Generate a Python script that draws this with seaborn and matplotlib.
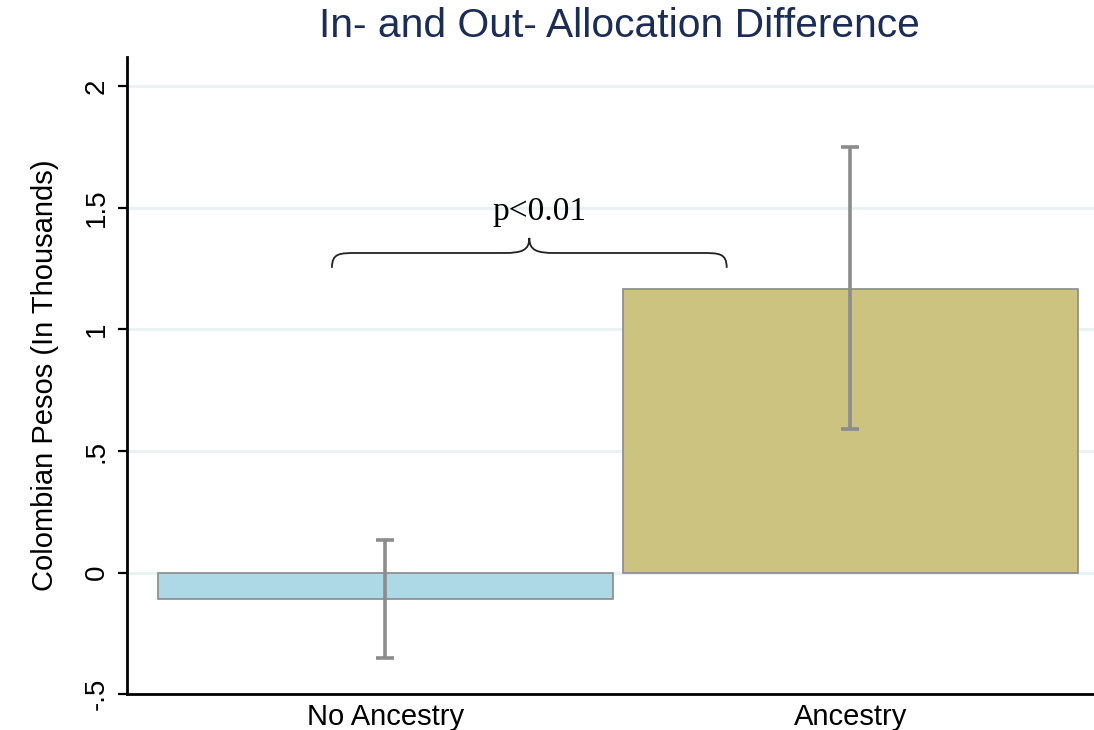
import matplotlib
matplotlib.use("Agg")
import matplotlib.pyplot as plt
from matplotlib.path import Path
from matplotlib.patches import PathPatch
import seaborn as sns
import pandas as pd
import numpy as np

# Data
groups = ["No Ancestry", "Ancestry"]
means = [-0.107, 1.166]
ci_low = [-0.353, 0.591]
ci_high = [0.136, 1.749]
bar_colors = ["#ADD8E6", "#CBC37F"]
yticks = [-0.5, 0, 0.5, 1, 1.5, 2]
ytick_labels = ["-.5", "0", ".5", "1", "1.5", "2"]

sns.set_theme(style="white")
plt.rcParams["font.family"] = ["Liberation Sans", "DejaVu Sans"]

fig = plt.figure(figsize=(10.94, 7.30), dpi=100)
ax = fig.add_axes([0.116, 0.049, 0.884, 0.873])

df = pd.DataFrame({"group": groups, "value": means})
sns.barplot(data=df, x="group", y="value", hue="group", palette=bar_colors,
            saturation=1, width=0.978, errorbar=None, legend=False, ax=ax,
            edgecolor="#8a8a8a", linewidth=1.2, zorder=3)

# Confidence intervals
xpos = np.arange(len(groups))
lo = np.array(means) - np.array(ci_low)
hi = np.array(ci_high) - np.array(means)
ax.errorbar(xpos, means, yerr=[lo, hi], fmt="none", ecolor="#8c8c8c",
            elinewidth=2.6, capsize=6.5, capthick=2.6, zorder=4)

ax.set_xlim(-0.556, 1.524)
ax.set_ylim(-0.5, 2.12)
ax.set_yticks(yticks)
ax.set_yticklabels(ytick_labels, rotation=90, va="center")
ax.tick_params(axis="y", which="both", left=True, length=6.5, width=1.6,
               color="black", labelsize=20, pad=6, labelcolor="black")
ax.tick_params(axis="x", bottom=False, labelsize=21, pad=0, labelcolor="black")
ax.set_xlabel("")
ax.set_ylabel("Colombian Pesos (In Thousands)", fontsize=21, labelpad=18,
              color="black")

ax.grid(axis="y", color="#E9F1F2", linewidth=2.0, zorder=0)
ax.set_axisbelow(True)
for side in ["top", "right"]:
    ax.spines[side].set_visible(False)
for side in ["left", "bottom"]:
    ax.spines[side].set_color("black")
    ax.spines[side].set_linewidth(2.0)

ax.set_title("In- and Out- Allocation Difference", fontsize=29.3,
             color="#1C2D55", pad=14, x=0.509)

# Curly brace spanning both groups
x0, x1 = -0.115, 0.734
xm = 0.5 * (x0 + x1)
y_end, y_bar, y_tip = 1.253, 1.314, 1.376
dx = 0.055
verts = [
    (x0, y_end), (x0, y_bar), (x0 + dx * 0.3, y_bar), (x0 + dx, y_bar),
    (xm - dx, y_bar),
    (xm - dx * 0.3, y_bar), (xm, y_bar + 0.01), (xm, y_tip),
    (xm, y_bar + 0.01), (xm + dx * 0.3, y_bar), (xm + dx, y_bar),
    (x1 - dx, y_bar),
    (x1 - dx * 0.3, y_bar), (x1, y_bar), (x1, y_end),
]
codes = [Path.MOVETO, Path.CURVE4, Path.CURVE4, Path.CURVE4,
         Path.LINETO,
         Path.CURVE4, Path.CURVE4, Path.CURVE4,
         Path.CURVE4, Path.CURVE4, Path.CURVE4,
         Path.LINETO,
         Path.CURVE4, Path.CURVE4, Path.CURVE4]
ax.add_patch(PathPatch(Path(verts, codes), facecolor="none",
                       edgecolor="#222222", linewidth=1.3, zorder=5))
ax.text(0.332, 1.42, "p<0.01", ha="center", va="bottom", fontsize=24,
        family=["Liberation Serif", "DejaVu Serif"], color="black", zorder=5)

fig.savefig("out.png", dpi=100)
